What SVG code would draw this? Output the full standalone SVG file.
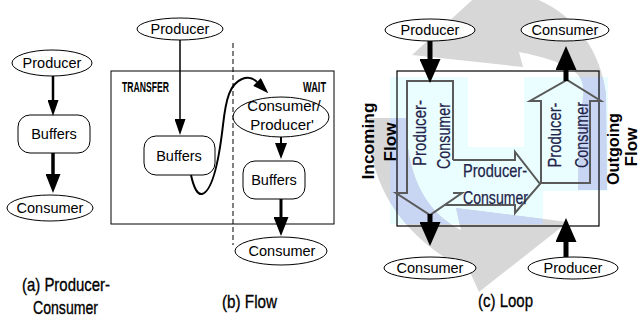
<svg xmlns="http://www.w3.org/2000/svg" width="642" height="324" viewBox="0 0 642 324">
  <style>
    .node { fill: #fff; stroke: #000; stroke-width: 1; }
    .lbl { font-family: "Liberation Sans", Arial, sans-serif; font-size: 14.5px; fill: #000; text-anchor: middle; }
    .cap { font-family: "Liberation Sans", Arial, sans-serif; font-size: 19px; fill: #000; stroke: #000; stroke-width: 0.35; }
    .hdr { font-family: "Liberation Sans", Arial, sans-serif; font-size: 15px; font-weight: bold; fill: #000; }
    .side { font-family: "Liberation Sans", Arial, sans-serif; font-size: 17px; font-weight: bold; fill: #000; text-anchor: middle; }
    .blk { font-family: "Liberation Sans", Arial, sans-serif; font-size: 19px; fill: #23234a; stroke: #23234a; stroke-width: 0.25; }
    .edge { fill: none; stroke: #000; }
    .barrow { fill: none; stroke: #5a5a5a; stroke-width: 2; stroke-linejoin: miter; }
    .pale { fill: #eafeff; }
    .swirl { fill: #d7d7d7; }
    .tint { fill: #c8d6f3; }
  </style>
  <defs>
    <marker id="hd-s" markerUnits="userSpaceOnUse" markerWidth="16" markerHeight="11" refX="0" refY="5.5" orient="auto">
      <path d="M0,0 L16,5.5 L0,11 Z" fill="#000"/>
    </marker>
    <marker id="hd-m" markerUnits="userSpaceOnUse" markerWidth="16" markerHeight="12" refX="0" refY="6" orient="auto">
      <path d="M0,0 L16,6 L0,12 Z" fill="#000"/>
    </marker>
    <marker id="hd-l" markerUnits="userSpaceOnUse" markerWidth="19" markerHeight="15" refX="0" refY="7.5" orient="auto">
      <path d="M0,0 L19,7.5 L0,15 Z" fill="#000"/>
    </marker>
    <marker id="hd-xl" markerUnits="userSpaceOnUse" markerWidth="24" markerHeight="21" refX="0" refY="10.5" orient="auto">
      <path d="M0,0 L24,10.5 L0,21 Z" fill="#000"/>
    </marker>
    <!-- circular loop arrows behind panel (c) -->
    <path id="loopTop" d="M412,55 L505,-30 L509,-8 C560,-2 600,40 606,95 L607,190 L578,190 L579,130 C581,100 590,85 575,72 C562,62 540,56 519,52 L523,67 Z"/>
    <path id="loopBottom" d="M369,118 C366,175 395,235 470,272 L479,292 L568,222 L456,208 L461,230 C425,212 406,175 406,118 Z"/>
    <clipPath id="paleArea">
      <rect x="390" y="77" width="78" height="147"/>
      <rect x="468" y="147" width="75" height="77"/>
      <rect x="524" y="77" width="84" height="114"/>
    </clipPath>
  </defs>

  <!-- (a) Producer-Consumer -->
  <g id="a-producer">
    <ellipse class="node" cx="52" cy="63" rx="40" ry="13"/>
    <text class="lbl" x="52" y="68">Producer</text>
  </g>
  <g id="a-buffers">
    <rect class="node" x="18" y="115" width="72" height="38" rx="12"/>
    <text class="lbl" x="54" y="139">Buffers</text>
  </g>
  <g id="a-consumer">
    <ellipse class="node" cx="50" cy="208" rx="43" ry="13"/>
    <text class="lbl" x="50" y="213">Consumer</text>
  </g>
  <g id="a-edges">
    <line class="edge" x1="53" y1="76" x2="53" y2="100" stroke-width="2.5" marker-end="url(#hd-s)"/>
    <line class="edge" x1="53" y1="153" x2="53" y2="174" stroke-width="3.5" marker-end="url(#hd-l)"/>
  </g>
  <text class="cap" x="22" y="291" textLength="88" lengthAdjust="spacingAndGlyphs">(a) Producer-</text>
  <text class="cap" x="33" y="314" textLength="65" lengthAdjust="spacingAndGlyphs">Consumer</text>

  <!-- (b) Flow -->
  <g id="b-frame">
    <rect x="111" y="71" width="223" height="153" fill="none" stroke="#000" stroke-width="1"/>
    <line x1="233" y1="43" x2="233" y2="245" stroke="#000" stroke-width="1" stroke-dasharray="5,3"/>
    <text class="hdr" x="122" y="92" textLength="47" lengthAdjust="spacingAndGlyphs">TRANSFER</text>
    <text class="hdr" x="326" y="92" text-anchor="end" textLength="23" lengthAdjust="spacingAndGlyphs">WAIT</text>
  </g>
  <g id="b-producer">
    <ellipse class="node" cx="180" cy="29" rx="43" ry="11"/>
    <text class="lbl" x="180" y="34">Producer</text>
  </g>
  <g id="b-buffers-left">
    <rect class="node" x="144" y="136" width="71" height="39" rx="12"/>
    <text class="lbl" x="179" y="161">Buffers</text>
  </g>
  <g id="b-consumer-producer">
    <ellipse class="node" cx="281" cy="117" rx="48" ry="20"/>
    <text class="lbl" x="284" y="111" style="font-size:15px">Consumer/</text>
    <text class="lbl" x="282" y="130" style="font-size:15px">Producer'</text>
  </g>
  <g id="b-buffers-right">
    <rect class="node" x="243" y="161" width="62" height="38" rx="12"/>
    <text class="lbl" x="274" y="185">Buffers</text>
  </g>
  <g id="b-consumer">
    <ellipse class="node" cx="281" cy="251" rx="46" ry="14"/>
    <text class="lbl" x="282" y="256">Consumer</text>
  </g>
  <g id="b-edges">
    <line class="edge" x1="180" y1="40" x2="180" y2="119" stroke-width="1.5" marker-end="url(#hd-s)"/>
    <path class="edge" d="M191,175 C194,189 198,195 202,194 C213,191 219,160 223,125 C226,98 230,84 242,79 C247,77 252,77 257,82" stroke-width="2" marker-end="url(#hd-s)"/>
    <line class="edge" x1="281" y1="137" x2="281" y2="143" stroke-width="2" marker-end="url(#hd-m)"/>
    <line class="edge" x1="281" y1="199" x2="281" y2="217" stroke-width="3" marker-end="url(#hd-l)"/>
  </g>
  <text class="cap" x="222" y="308" textLength="55" lengthAdjust="spacingAndGlyphs">(b) Flow</text>

  <!-- (c) Loop -->
  <g id="c-background">
    <rect class="pale" x="390" y="77" width="78" height="147"/>
    <rect class="pale" x="468" y="147" width="75" height="77"/>
    <rect class="pale" x="524" y="77" width="84" height="114"/>
    <use href="#loopTop" class="swirl"/>
    <use href="#loopBottom" class="swirl"/>
    <g clip-path="url(#paleArea)">
      <use href="#loopTop" class="tint"/>
      <use href="#loopBottom" class="tint"/>
    </g>
    <rect x="397" y="71" width="202" height="155" fill="none" stroke="#000" stroke-width="1.2"/>
  </g>
  <g id="c-incoming">
    <path class="barrow" d="M453,160 V81 H407 V193 H396 L430,215 L462,193 H453"/>
    <text class="blk" transform="rotate(-90 426 133)" x="426" y="133" text-anchor="middle" textLength="66" lengthAdjust="spacingAndGlyphs">Producer-</text>
    <text class="blk" transform="rotate(-90 450 136)" x="450" y="136" text-anchor="middle" textLength="66" lengthAdjust="spacingAndGlyphs">Consumer</text>
  </g>
  <g id="c-transfer">
    <path class="barrow" d="M453,160 H515 V152 L540,184 L515,213 V205 H444"/>
    <text class="blk" x="463" y="177" textLength="64" lengthAdjust="spacingAndGlyphs">Producer-</text>
    <text class="blk" x="463" y="204" textLength="65" lengthAdjust="spacingAndGlyphs">Consumer</text>
  </g>
  <g id="c-outgoing">
    <path class="barrow" d="M541,183 V101 H530 L567,80 L601,101 H590 V183 Z"/>
    <text class="blk" transform="rotate(-90 561 135)" x="561" y="135" text-anchor="middle" textLength="65" lengthAdjust="spacingAndGlyphs">Producer-</text>
    <text class="blk" transform="rotate(-90 588 135)" x="588" y="135" text-anchor="middle" textLength="66" lengthAdjust="spacingAndGlyphs">Consumer</text>
  </g>
  <g id="c-side-labels">
    <text class="side" transform="rotate(-90 374 141)" x="374" y="141" textLength="77" lengthAdjust="spacingAndGlyphs">Incoming</text>
    <text class="side" transform="rotate(-90 396 142)" x="396" y="142" textLength="39" lengthAdjust="spacingAndGlyphs">Flow</text>
    <text class="side" transform="rotate(-90 619 149)" x="619" y="149" textLength="72" lengthAdjust="spacingAndGlyphs">Outgoing</text>
    <text class="side" transform="rotate(-90 637 147)" x="637" y="147" textLength="39" lengthAdjust="spacingAndGlyphs">Flow</text>
  </g>
  <g id="c-producer-top">
    <ellipse class="node" cx="430" cy="30" rx="45" ry="11"/>
    <text class="lbl" x="430" y="35">Producer</text>
  </g>
  <g id="c-consumer-top">
    <ellipse class="node" cx="565" cy="30" rx="44" ry="11"/>
    <text class="lbl" x="565" y="35">Consumer</text>
  </g>
  <g id="c-consumer-bottom">
    <ellipse class="node" cx="430" cy="268" rx="46" ry="11"/>
    <text class="lbl" x="430" y="273">Consumer</text>
  </g>
  <g id="c-producer-bottom">
    <ellipse class="node" cx="573" cy="268" rx="45" ry="11"/>
    <text class="lbl" x="573" y="273">Producer</text>
  </g>
  <g id="c-edges">
    <line class="edge" x1="430" y1="41" x2="430" y2="59" stroke-width="5" marker-end="url(#hd-xl)"/>
    <line class="edge" x1="566" y1="81" x2="566" y2="70" stroke-width="5" marker-end="url(#hd-xl)"/>
    <line class="edge" x1="430" y1="214" x2="430" y2="222" stroke-width="5" marker-end="url(#hd-xl)"/>
    <line class="edge" x1="566" y1="257" x2="566" y2="242" stroke-width="5" marker-end="url(#hd-xl)"/>
  </g>
  <text class="cap" x="478" y="307" textLength="55" lengthAdjust="spacingAndGlyphs">(c) Loop</text>
</svg>
